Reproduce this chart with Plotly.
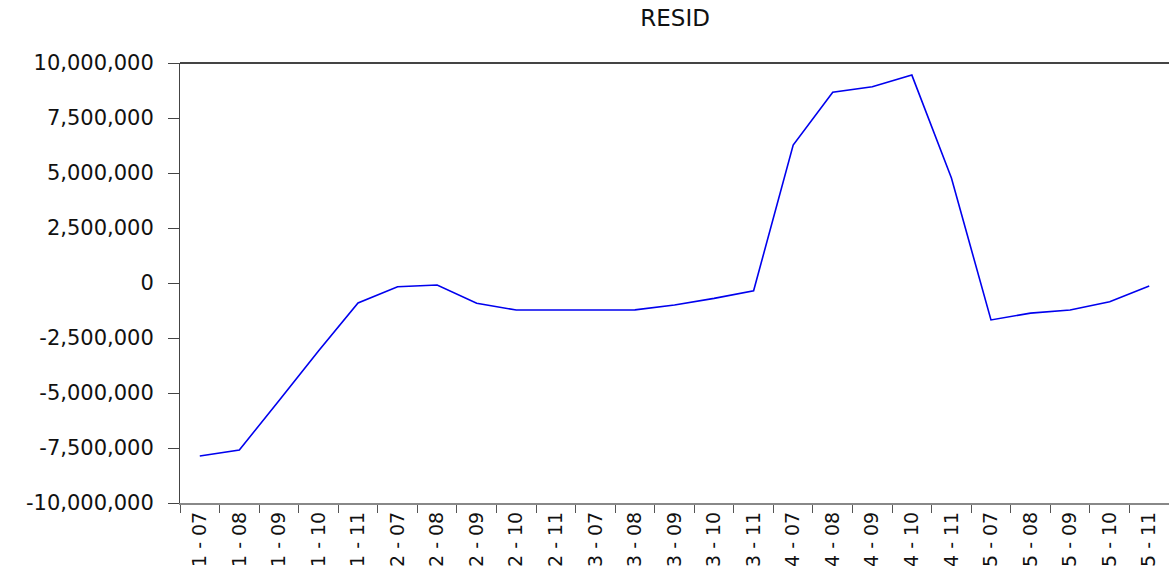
import plotly.graph_objects as go

categories = ["1 - 07", "1 - 08", "1 - 09", "1 - 10", "1 - 11",
              "2 - 07", "2 - 08", "2 - 09", "2 - 10", "2 - 11",
              "3 - 07", "3 - 08", "3 - 09", "3 - 10", "3 - 11",
              "4 - 07", "4 - 08", "4 - 09", "4 - 10", "4 - 11",
              "5 - 07", "5 - 08", "5 - 09", "5 - 10", "5 - 11"]

resid = [-7860000, -7590000, -5350000, -3090000, -910000,
         -170000, -90000, -920000, -1230000, -1230000,
         -1200000, -1220000, -1000000, -700000, -350000,
         6270000, 8670000, 8920000, 9450000, 4770000,
         -1680000, -1370000, -1230000, -850000, -140000]

y_tickvals = [10000000, 7500000, 5000000, 2500000, 0,
              -2500000, -5000000, -7500000, -10000000]
y_ticktext = ["10,000,000", "7,500,000", "5,000,000", "2,500,000", "0",
              "-2,500,000", "-5,000,000", "-7,500,000", "-10,000,000"]

FONT = "DejaVu Sans"

fig = go.Figure()
fig.add_trace(go.Scatter(
    x=list(range(len(categories))), y=resid, mode="lines",
    line=dict(color="#0000EE", width=1.6), showlegend=False,
))

fig.update_layout(
    width=1169, height=576,
    margin=dict(l=180, r=0, t=63, b=73, autoexpand=False),
    paper_bgcolor="white", plot_bgcolor="white",
    title=dict(text="RESID", x=0.5775, xanchor="center", y=0.968, yanchor="middle",
               font=dict(family=FONT, size=23, color="#111")),
    font=dict(family=FONT, color="#111"),
    xaxis=dict(
        range=[-0.5, len(categories) - 0.5],
        tickvals=[i - 0.5 for i in range(len(categories))] + [len(categories) - 0.5],
        ticktext=[""] * (len(categories) + 1),
        ticks="outside", ticklen=8, tickwidth=1, tickcolor="#555",
        showgrid=False, zeroline=False,
        showline=True, linecolor="#888", linewidth=2,
    ),
    xaxis2=dict(
        overlaying="x", matches="x", side="bottom",
        tickvals=list(range(len(categories))), ticktext=categories,
        tickangle=-90, ticks="", showgrid=False, zeroline=False, showline=False,
        tickfont=dict(family=FONT, size=19, color="#111"),
        ticklabelstandoff=4,
    ),
    yaxis=dict(
        range=[-10000000, 10000000],
        tickvals=y_tickvals, ticktext=y_ticktext,
        ticks="outside", ticklen=11, tickwidth=1, tickcolor="#444",
        ticklabelstandoff=10,
        tickfont=dict(family=FONT, size=21, color="#111"),
        showgrid=False, zeroline=False,
        showline=True, linecolor="#444", linewidth=1,
    ),
)

# invisible trace on xaxis2 so its category labels render
fig.add_trace(go.Scatter(x=list(range(len(categories))), y=resid, xaxis="x2",
                         mode="lines", line=dict(width=0), opacity=0,
                         showlegend=False, hoverinfo="skip"))

# top frame line
fig.add_shape(type="line", xref="paper", yref="paper", x0=0, x1=1, y0=1, y1=1,
              line=dict(color="#444", width=2))

fig.write_html("out.html", config={"displayModeBar": False},
               post_script="document.body.style.margin='0';document.body.style.padding='0';")
